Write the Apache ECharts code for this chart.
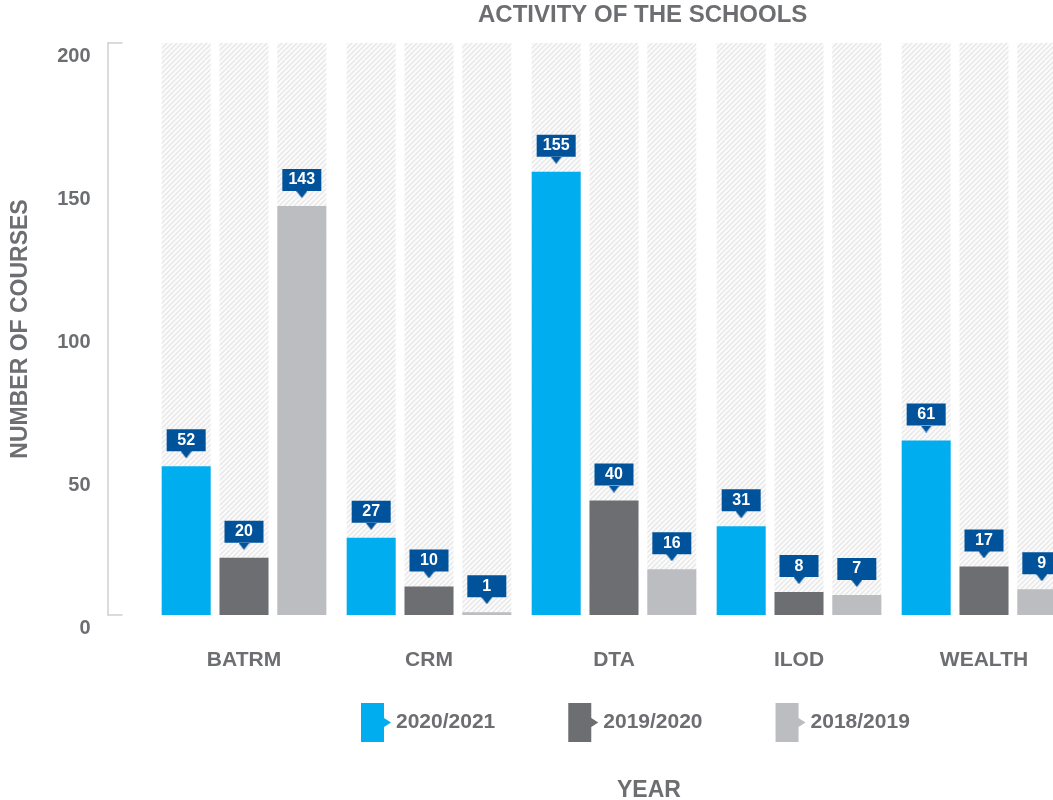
<!DOCTYPE html>
<html>
<head>
<meta charset="utf-8">
<script src="https://cdn.jsdelivr.net/npm/echarts@6/dist/echarts.min.js"></script>
<style>
html,body{margin:0;padding:0;background:#fff;}
#chart{width:1053px;height:800px;}
</style>
</head>
<body>
<div id="chart"></div>
<script>
var categories = ['BATRM', 'CRM', 'DTA', 'ILOD', 'WEALTH'];
var seriesNames = ['2020/2021', '2019/2020', '2018/2019'];
var values2020 = [52, 27, 155, 31, 61];
var values2019 = [20, 10, 40, 8, 17];
var values2018 = [143, 1, 16, 7, 9];
var backgroundMax = [200, 200, 200, 200, 200];
var yTicks = [0, 50, 100, 150, 200];

var GRAY_TEXT = '#6d6e71';
var LABEL_BLUE = '#00529b';
var colors = ['#00aeef', '#6d6e71', '#bcbdc0'];

// hatch pattern
var hatch = document.createElement('canvas');
hatch.width = 10; hatch.height = 10;
(function(){
  var c = hatch.getContext('2d');
  c.fillStyle = '#fbfbfb';
  c.fillRect(0,0,10,10);
  c.strokeStyle = '#e7e7e7';
  c.lineWidth = 1.4;
  for (var k = -2; k <= 2; k++) {
    c.beginPath();
    c.moveTo(k*5, 10);
    c.lineTo(k*5 + 10, 0);
    c.stroke();
  }
})();

// triangle pointer
var tri = document.createElement('canvas');
tri.width = 11; tri.height = 7;
(function(){
  var c = tri.getContext('2d');
  c.fillStyle = LABEL_BLUE;
  c.beginPath();
  c.moveTo(0,0); c.lineTo(11,0); c.lineTo(5.5,7); c.closePath();
  c.fill();
})();

var chart = echarts.init(document.getElementById('chart'), null, {renderer: 'canvas'});

var BAR_W = 49, BAR_GAP = '18%';

function bgSeries() {
  return {
    type: 'bar', xAxisIndex: 1, yAxisIndex: 0, data: backgroundMax,
    barWidth: BAR_W, barGap: BAR_GAP, silent: true, z: 1,
    itemStyle: {color: {image: hatch, repeat: 'repeat'}},
    tooltip: {show: false}
  };
}
function dataSeries(name, data, color) {
  return {
    type: 'bar', name: name, xAxisIndex: 0, yAxisIndex: 0, data: data,
    barWidth: BAR_W, barGap: BAR_GAP, z: 3,
    itemStyle: {color: color},
    label: {
      show: true, position: 'top', distance: 8,
      formatter: function(p){ return '{b|' + p.value + '}\n{t| }'; },
      rich: {
        b: {backgroundColor: LABEL_BLUE, color: '#fff', width: 39, height: 22, lineHeight: 22,
            align: 'center', fontSize: 16, fontWeight: 'bold', fontFamily: 'Liberation Sans, Arial, sans-serif'},
        t: {width: 11, height: 7, lineHeight: 7, align: 'center', fontSize: 1,
            backgroundColor: {image: tri}}
      }
    }
  };
}

var option = {
  animation: false,
  textStyle: {fontFamily: 'Liberation Sans, Arial, sans-serif'},
  title: [
    {text: 'ACTIVITY OF THE SCHOOLS', left: 478, top: 3, padding: 0,
     textStyle: {fontSize: 24, fontWeight: 'bold', color: GRAY_TEXT}},
    {text: 'YEAR', left: 617, top: 779, padding: 0,
     textStyle: {fontSize: 23, fontWeight: 'bold', color: GRAY_TEXT}}
  ],
  legend: {
    data: seriesNames, left: 361, top: 703, padding: 0, itemGap: 73,
    itemWidth: 30, itemHeight: 39,
    icon: 'path://M0,0H23V15L30,19.5L23,24V39H0Z',
    textStyle: {fontSize: 21, fontWeight: 'bold', color: GRAY_TEXT}
  },
  grid: {left: 151.5, right: -23.5, top: 43, bottom: 185, containLabel: false, outerBoundsMode: 'none'},
  xAxis: [
    {type: 'category', data: categories, axisLine: {show: false}, axisTick: {show: false},
     axisLabel: {margin: 35, fontSize: 21, fontWeight: 'bold', color: GRAY_TEXT}},
    {type: 'category', data: categories, show: false}
  ],
  yAxis: [
    {type: 'value', min: yTicks[0], max: yTicks[yTicks.length-1], interval: 50, position: 'left',
     axisLine: {show: false}, axisTick: {show: false}, splitLine: {show: false},
     axisLabel: {margin: 61, fontSize: 20, fontWeight: 'bold', color: GRAY_TEXT,
                 verticalAlign: 'top', padding: [3,0,0,0]},
     name: 'NUMBER OF COURSES', nameLocation: 'middle', nameRotate: 90, nameGap: 119,
     nameTextStyle: {fontSize: 23, fontWeight: 'bold', color: GRAY_TEXT}},
    {type: 'value', min: 0, max: 200, interval: 200, position: 'left', offset: 44,
     axisLine: {show: true, lineStyle: {color: '#cfcfcf', width: 1.5}},
     axisTick: {show: true, inside: true, length: 15, lineStyle: {color: '#cfcfcf', width: 1.5}},
     axisLabel: {show: false}, splitLine: {show: false}}
  ],
  series: [
    bgSeries(), bgSeries(), bgSeries(),
    dataSeries(seriesNames[0], values2020, colors[0]),
    dataSeries(seriesNames[1], values2019, colors[1]),
    dataSeries(seriesNames[2], values2018, colors[2])
  ]
};
chart.setOption(option);
</script>
</body>
</html>
